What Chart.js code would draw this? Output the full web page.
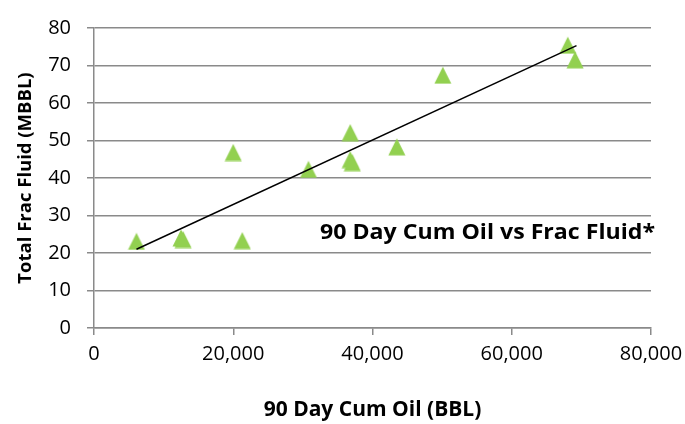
<!DOCTYPE html>
<html>
<head>
<meta charset="utf-8">
<script src="https://cdn.jsdelivr.net/npm/chart.js@4"></script>
<style>
    html, body { margin: 0; padding: 0; background: #ffffff; }
    #wrap { width: 685px; height: 424px; }
</style>
</head>
<body>
<div id="wrap"><canvas id="chart" width="685" height="424"></canvas></div>
<script>
// 90 day cumulative oil (BBL) per well
var cumOil = [6100, 12500, 12800, 20000, 21300, 30800, 36800, 36800, 37100, 43500, 50100, 68050, 69100];
// total frac fluid (MBBL) per well
var fracFluid = [23.1, 24.0, 23.6, 46.8, 23.3, 42.3, 52.1, 44.9, 44.1, 48.3, 67.4, 75.4, 71.5];
// linear trendline end points
var trendOil = [6100, 69300];
var trendFluid = [21.0, 75.3];

var xTicks = [0, 20000, 40000, 60000, 80000];
var yTicks = [0, 10, 20, 30, 40, 50, 60, 70, 80];

var chartTitle = '90 Day Cum Oil vs Frac Fluid*';
var xTitle = '90 Day Cum Oil (BBL)';
var yTitle = 'Total Frac Fluid (MBBL)';

var gridColor = '#8a8a8a';
var fontFamily = '"Open Sans", "Noto Sans", sans-serif';

// Excel style green triangle marker
function makeTriangle() {
    var c = document.createElement('canvas');
    c.width = 18;
    c.height = 18;
    var g = c.getContext('2d');
    g.fillStyle = '#92d050';
    g.beginPath();
    g.moveTo(9, 0.5);
    g.lineTo(17.5, 17.5);
    g.lineTo(0.5, 17.5);
    g.closePath();
    g.fill();
    return c;
}

// draws the label text inside the plot area, stretched to the width Calibri had
var insideTitle = {
    id: 'insideTitle',
    afterDatasetsDraw: function (chart) {
        var ctx = chart.ctx;
        var right = chart.chartArea.right + 4;
        ctx.save();
        ctx.font = 'bold 22px ' + fontFamily;
        ctx.fillStyle = '#000000';
        ctx.textAlign = 'right';
        ctx.textBaseline = 'alphabetic';
        var w = ctx.measureText(chartTitle).width;
        ctx.translate(right, 238.5);
        ctx.scale(335 / w, 1);
        ctx.fillText(chartTitle, 0, 0);
        ctx.restore();
    }
};

var scatterData = cumOil.map(function (v, i) { return { x: v, y: fracFluid[i] }; });
var trendData = trendOil.map(function (v, i) { return { x: v, y: trendFluid[i] }; });

var ctx = document.getElementById('chart').getContext('2d');
new Chart(ctx, {
    type: 'scatter',
    data: {
        datasets: [{
            label: 'Trend',
            data: trendData,
            showLine: true,
            borderColor: '#000000',
            borderWidth: 1.5,
            pointRadius: 0,
            fill: false,
            order: 0
        }, {
            label: 'Wells',
            data: scatterData,
            pointStyle: makeTriangle(),
            order: 1
        }]
    },
    options: {
        responsive: false,
        animation: false,
        layout: {
            padding: { left: 0, top: 21, right: 34, bottom: 0 }
        },
        plugins: {
            legend: { display: false },
            tooltip: { enabled: false }
        },
        scales: {
            x: {
                type: 'linear',
                min: 0,
                max: 80000,
                afterBuildTicks: function (scale) {
                    scale.ticks = xTicks.map(function (v) { return { value: v }; });
                },
                afterFit: function (scale) {
                    scale.height = 96;
                    // let the last label hang past the plot like Excel does
                    scale.paddingLeft = 0;
                    scale.paddingRight = 0;
                },
                grid: {
                    drawOnChartArea: false,
                    drawTicks: true,
                    tickLength: 7,
                    color: gridColor,
                    lineWidth: 1.5
                },
                border: { color: gridColor, width: 1.5 },
                ticks: {
                    padding: 7,
                    color: '#000000',
                    font: { family: fontFamily, size: 20 },
                    callback: function (v) { return v.toLocaleString('en-US'); }
                },
                title: {
                    display: true,
                    text: xTitle,
                    color: '#000000',
                    font: { family: fontFamily, size: 21, weight: 'bold' },
                    padding: { top: 0, bottom: 1 }
                }
            },
            y: {
                type: 'linear',
                min: 0,
                max: 80,
                afterBuildTicks: function (scale) {
                    scale.ticks = yTicks.map(function (v) { return { value: v }; });
                },
                afterFit: function (scale) { scale.width = 94; },
                grid: {
                    drawTicks: true,
                    tickLength: 7,
                    color: gridColor,
                    lineWidth: 1.5
                },
                border: { color: gridColor, width: 1.5 },
                ticks: {
                    padding: 16,
                    color: '#000000',
                    font: { family: fontFamily, size: 20 }
                },
                title: {
                    display: true,
                    text: yTitle,
                    color: '#000000',
                    font: { family: fontFamily, size: 18.5, weight: 'bold' },
                    padding: { top: 15, bottom: 0 }
                }
            }
        }
    },
    plugins: [insideTitle]
});
</script>
</body>
</html>
